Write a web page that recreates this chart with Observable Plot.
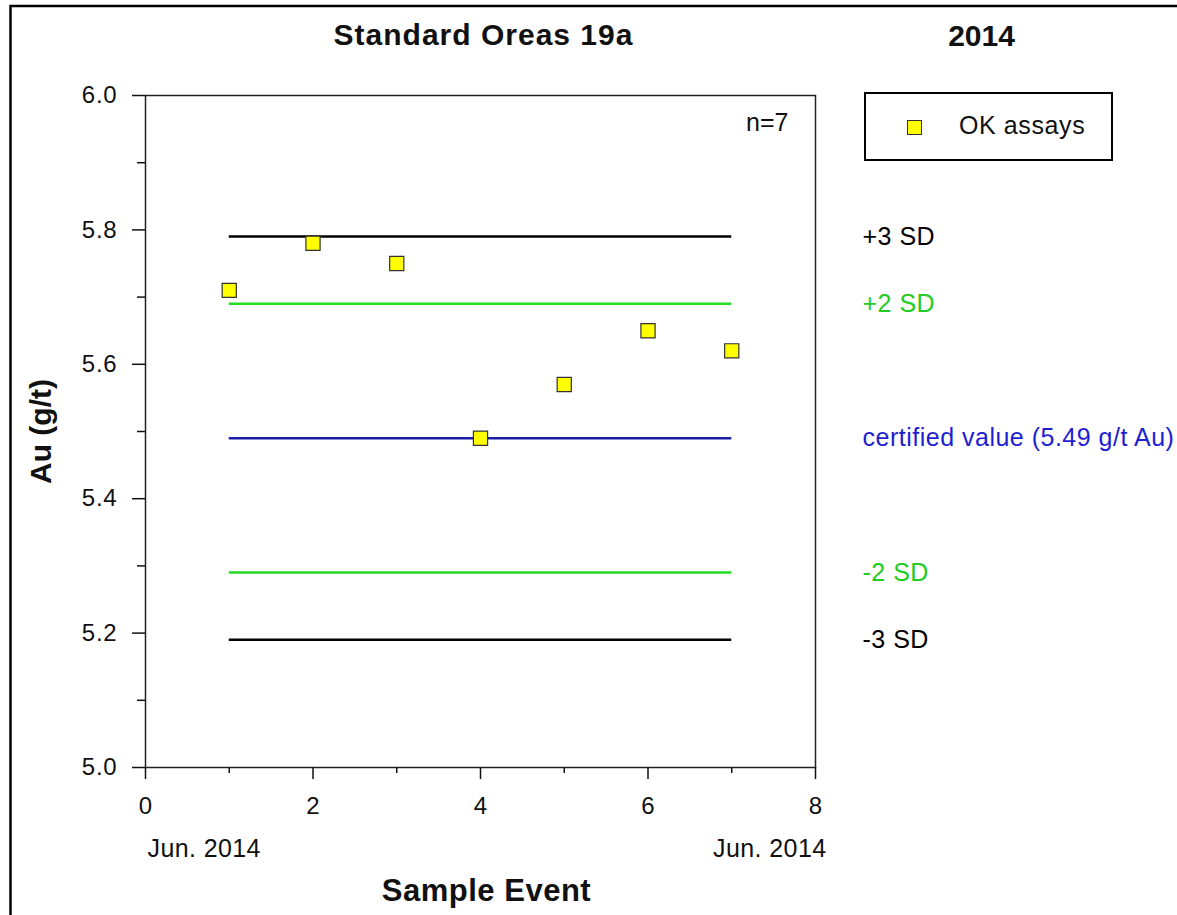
<!DOCTYPE html>
<html>
<head>
<meta charset="utf-8">
<script src="https://cdn.jsdelivr.net/npm/d3@7"></script>
<script src="https://cdn.jsdelivr.net/npm/@observablehq/plot@0.6"></script>
<style>
  html, body { margin: 0; padding: 0; background: #fff; overflow: hidden; }
  #wrap { position: relative; width: 1177px; height: 915px; overflow: hidden; font-family: "Liberation Sans", Arial, sans-serif; }
  #chart svg { display: block; }
  #legend { position: absolute; left: 864px; top: 92px; width: 249px; height: 69px; border: 2px solid #000; box-sizing: border-box; background: #fff; }
  #legend .key { position: absolute; left: 41px; top: 26px; width: 15px; height: 15px; background: #ffff00; border: 1px solid #333; box-sizing: border-box; }
  #legend .lab { position: absolute; left: 93px; top: 16px; font-size: 25px; letter-spacing: 0.6px; color: #111; white-space: nowrap; line-height: 30px; }
</style>
</head>
<body>
<div id="wrap">
  <div id="chart"></div>
  <div id="legend"><div class="key"></div><div class="lab" id="legendLabel"></div></div>
</div>
<script>
// ---- data ----
const chartTitle = "Standard Oreas 19a";
const yearLabel = "2014";
const seriesName = "OK assays";
const sampleEvents = [1, 2, 3, 4, 5, 6, 7];
const auValues = [5.71, 5.78, 5.75, 5.49, 5.57, 5.65, 5.62];
const refLabels = ["+3 SD", "+2 SD", "certified value (5.49 g/t Au)", "-2 SD", "-3 SD"];
const refValues = [5.79, 5.69, 5.49, 5.29, 5.19];
const refKinds = ["sd3", "sd2", "cert", "sd2", "sd3"];
const xMajorTicks = [0, 2, 4, 6, 8];
const xMinorTicks = [1, 3, 5, 7];
const yMajorTicks = [5.0, 5.2, 5.4, 5.6, 5.8, 6.0];
const yMinorTicks = [5.1, 5.3, 5.5, 5.7, 5.9];
const dateStart = "Jun. 2014";
const dateEnd = "Jun. 2014";
const xTitle = "Sample Event";
const yTitle = "Au (g/t)";

// ---- tables ----
const points = sampleEvents.map((x, i) => ({x, y: auValues[i]}));
const firstEvent = sampleEvents[0], lastEvent = sampleEvents[sampleEvents.length - 1];
const refs = refLabels.map((label, i) => ({label, v: refValues[i], kind: refKinds[i], x1: firstEvent, x2: lastEvent}));

const lineColor = {sd3: "#000000", sd2: "#22dd22", cert: "#1c1caa"};
const textColor = {sd3: "#000000", sd2: "#22cc22", cert: "#1e1ed2"};
const FONT = "Liberation Sans, Arial, sans-serif";

const chart = Plot.plot({
  width: 1177,
  height: 915,
  marginLeft: 145,
  marginRight: 362,
  marginTop: 95,
  marginBottom: 148,
  style: {fontFamily: FONT, color: "#111", background: "transparent"},
  x: {domain: [0, 8]},
  y: {domain: [5, 6]},
  marks: [
    // outer page border (left and top edges only, as in the original)
    () => {
      const ns = "http://www.w3.org/2000/svg";
      const g = document.createElementNS(ns, "g");
      const p = document.createElementNS(ns, "path");
      p.setAttribute("d", "M10.5,915V6H1177");
      p.setAttribute("fill", "none");
      p.setAttribute("stroke", "#000");
      p.setAttribute("stroke-width", "2.5");
      g.appendChild(p);
      return g;
    },
    Plot.frame({stroke: "#222", strokeWidth: 1.5}),
    Plot.axisY(yMajorTicks, {tickSize: 13, tickPadding: 15, tickFormat: d3.format(".1f"), fontSize: 24, label: null, strokeWidth: 1.5, className: "tl"}),
    Plot.axisY(yMinorTicks, {tickSize: 8, tickFormat: () => "", label: null, strokeWidth: 1.5}),
    Plot.axisX(xMajorTicks, {tickSize: 12, tickPadding: 17, tickFormat: d3.format("d"), fontSize: 24, label: null, strokeWidth: 1.5}),
    Plot.axisX(xMinorTicks, {tickSize: 6, tickFormat: () => "", label: null, strokeWidth: 1.5}),
    Plot.ruleY(refs, {y: "v", x1: "x1", x2: "x2", stroke: d => lineColor[d.kind], strokeWidth: 2.5}),
    Plot.dot(points, {x: "x", y: "y", symbol: "square", r: 8, fill: "#ffff00", stroke: "#333", strokeWidth: 1.2}),
    Plot.text(refs, {y: "v", text: "label", frameAnchor: "right", dx: 47, textAnchor: "start", lineAnchor: "middle", fill: d => textColor[d.kind], fontSize: 25, className: "ls06"}),
    Plot.text([`n=${auValues.length}`], {text: d => d, frameAnchor: "top-right", dx: -27, dy: 27, textAnchor: "end", lineAnchor: "middle", fontSize: 25}),
    Plot.text([chartTitle], {text: d => d, frameAnchor: "top", dx: 3, dy: -60, textAnchor: "middle", lineAnchor: "middle", fontSize: 30, fontWeight: "bold", className: "ls10"}),
    Plot.text([yearLabel], {text: d => d, frameAnchor: "top-right", dx: 166, dy: -59, textAnchor: "middle", lineAnchor: "middle", fontSize: 30, fontWeight: "bold"}),
    Plot.text([dateStart], {text: d => d, frameAnchor: "bottom-left", dx: 2, dy: 81, textAnchor: "start", lineAnchor: "middle", fontSize: 25, className: "ls04"}),
    Plot.text([dateEnd], {text: d => d, frameAnchor: "bottom-right", dx: 11, dy: 81, textAnchor: "end", lineAnchor: "middle", fontSize: 25, className: "ls04"}),
    Plot.text([xTitle], {text: d => d, frameAnchor: "bottom", dx: 6, dy: 124, textAnchor: "middle", lineAnchor: "middle", fontSize: 31, fontWeight: "bold", className: "ls05"}),
    Plot.text([yTitle], {text: d => d, frameAnchor: "left", dx: -104, textAnchor: "middle", lineAnchor: "middle", rotate: -90, fontSize: 30, fontWeight: "bold"})
  ]
});
const css = document.createElement("style");
css.textContent = `.ls06 text{letter-spacing:0.5px}.ls10 text{letter-spacing:1px}.ls04 text{letter-spacing:0.4px}.ls05 text{letter-spacing:0.5px}.tl text{letter-spacing:0.8px}`;
document.head.appendChild(css);
document.getElementById("chart").appendChild(chart);
document.getElementById("legendLabel").textContent = seriesName;
</script>
</body>
</html>
